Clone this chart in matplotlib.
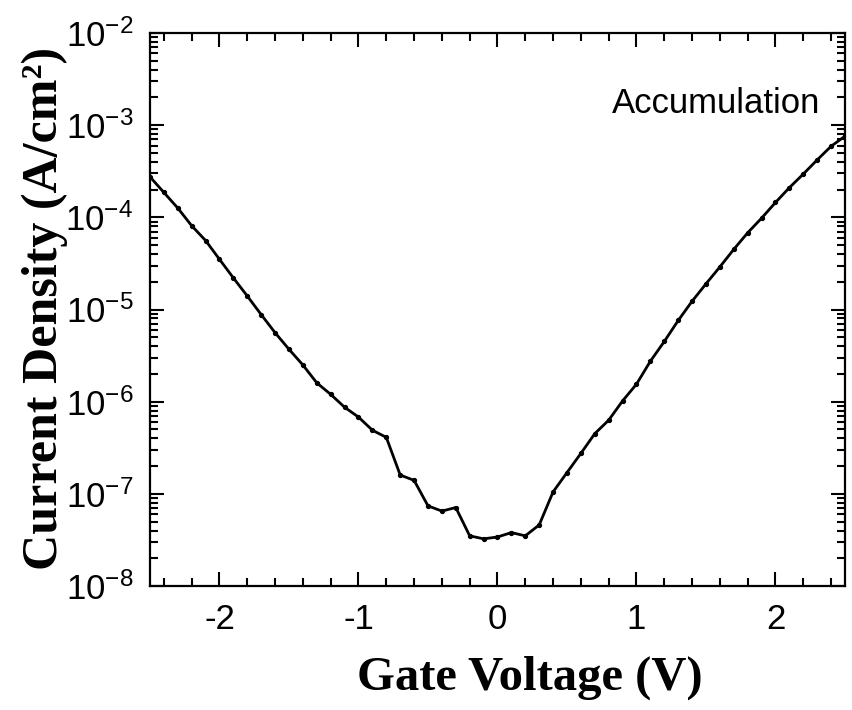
import numpy as np
import matplotlib
matplotlib.use("Agg")
import matplotlib.pyplot as plt
from matplotlib.ticker import MultipleLocator, LogLocator, FixedLocator, NullFormatter

# Gate voltage sweep (V) and measured leakage current density (A/cm^2)
gate_voltage = [
    -2.5, -2.4, -2.3, -2.2, -2.1, -2.0, -1.9, -1.8, -1.7, -1.6,
    -1.5, -1.4, -1.3, -1.2, -1.1, -1.0, -0.9, -0.8, -0.7, -0.6,
    -0.5, -0.4, -0.3, -0.2, -0.1, 0.0, 0.1, 0.2, 0.3, 0.4,
    0.5, 0.6, 0.7, 0.8, 0.9, 1.0, 1.1, 1.2, 1.3, 1.4,
    1.5, 1.6, 1.7, 1.8, 1.9, 2.0, 2.1, 2.2, 2.3, 2.4, 2.5,
]
current_density = [
    2.75e-4, 1.86e-4, 1.26e-4, 8.1e-5, 5.6e-5, 3.5e-5, 2.2e-5, 1.4e-5, 8.8e-6, 5.6e-6,
    3.7e-6, 2.5e-6, 1.6e-6, 1.2e-6, 8.7e-7, 6.8e-7, 4.9e-7, 4.1e-7, 1.6e-7, 1.4e-7,
    7.4e-8, 6.5e-8, 7.1e-8, 3.5e-8, 3.25e-8, 3.4e-8, 3.8e-8, 3.5e-8, 4.6e-8, 1.05e-7,
    1.7e-7, 2.75e-7, 4.5e-7, 6.3e-7, 1.02e-6, 1.55e-6, 2.75e-6, 4.5e-6, 7.6e-6, 1.23e-5,
    1.9e-5, 2.9e-5, 4.5e-5, 6.8e-5, 9.8e-5, 1.45e-4, 2.1e-4, 2.95e-4, 4.2e-4, 5.9e-4, 7.6e-4,
]
x_ticks = [-2, -1, 0, 1, 2]
x_tick_labels = ["-2", "-1", "0", "1", "2"]
y_exponents = [-8, -7, -6, -5, -4, -3, -2]

sans = ["Liberation Sans", "DejaVu Sans"]
serif = ["Liberation Serif", "DejaVu Serif"]
plt.rcParams["font.family"] = sans
plt.rcParams["mathtext.fontset"] = "custom"
plt.rcParams["mathtext.rm"] = "Liberation Sans"

fig = plt.figure(figsize=(8.53, 7.10), dpi=100)
ax = fig.add_axes([150 / 853, 1 - 586 / 710, 695 / 853, 553 / 710])

ax.plot(gate_voltage, current_density, color="black", lw=2.0,
        marker="o", ms=2.8, mfc="black", mec="black")

ax.set_yscale("log")
ax.set_xlim(-2.5, 2.5)
ax.set_ylim(1e-8, 1e-2)

ax.xaxis.set_major_locator(FixedLocator(x_ticks))
ax.set_xticklabels(x_tick_labels)
ax.xaxis.set_minor_locator(MultipleLocator(0.2))

ax.yaxis.set_major_locator(FixedLocator([10.0 ** e for e in y_exponents]))
ax.set_yticklabels([r"$\mathregular{10^{%d}}$" % e for e in y_exponents])
ax.yaxis.set_minor_locator(LogLocator(base=10, subs=np.arange(2, 10), numticks=20))
ax.yaxis.set_minor_formatter(NullFormatter())

for s in ax.spines.values():
    s.set_linewidth(1.6)

ax.tick_params(which="both", direction="in", top=True, right=True, width=1.5)
ax.tick_params(which="major", length=10, labelsize=25)
ax.tick_params(which="minor", length=6)
ax.tick_params(axis="x", which="major", pad=12)
ax.tick_params(axis="y", which="major", pad=12)

ax.text(0.664, 0.855, "Accumulation", transform=ax.transAxes,
        ha="left", va="baseline", fontsize=25, family=sans)

fig.text(45 / 853, 1 - 308 / 710, "Current Density (A/cm²)", rotation=90,
         ha="center", va="center", fontsize=36, fontweight="bold", family=serif)
fig.text(530 / 853, 1 - 678 / 710, "Gate Voltage (V)",
         ha="center", va="center", fontsize=35, fontweight="bold", family=serif)

fig.savefig("out.png", dpi=100)
